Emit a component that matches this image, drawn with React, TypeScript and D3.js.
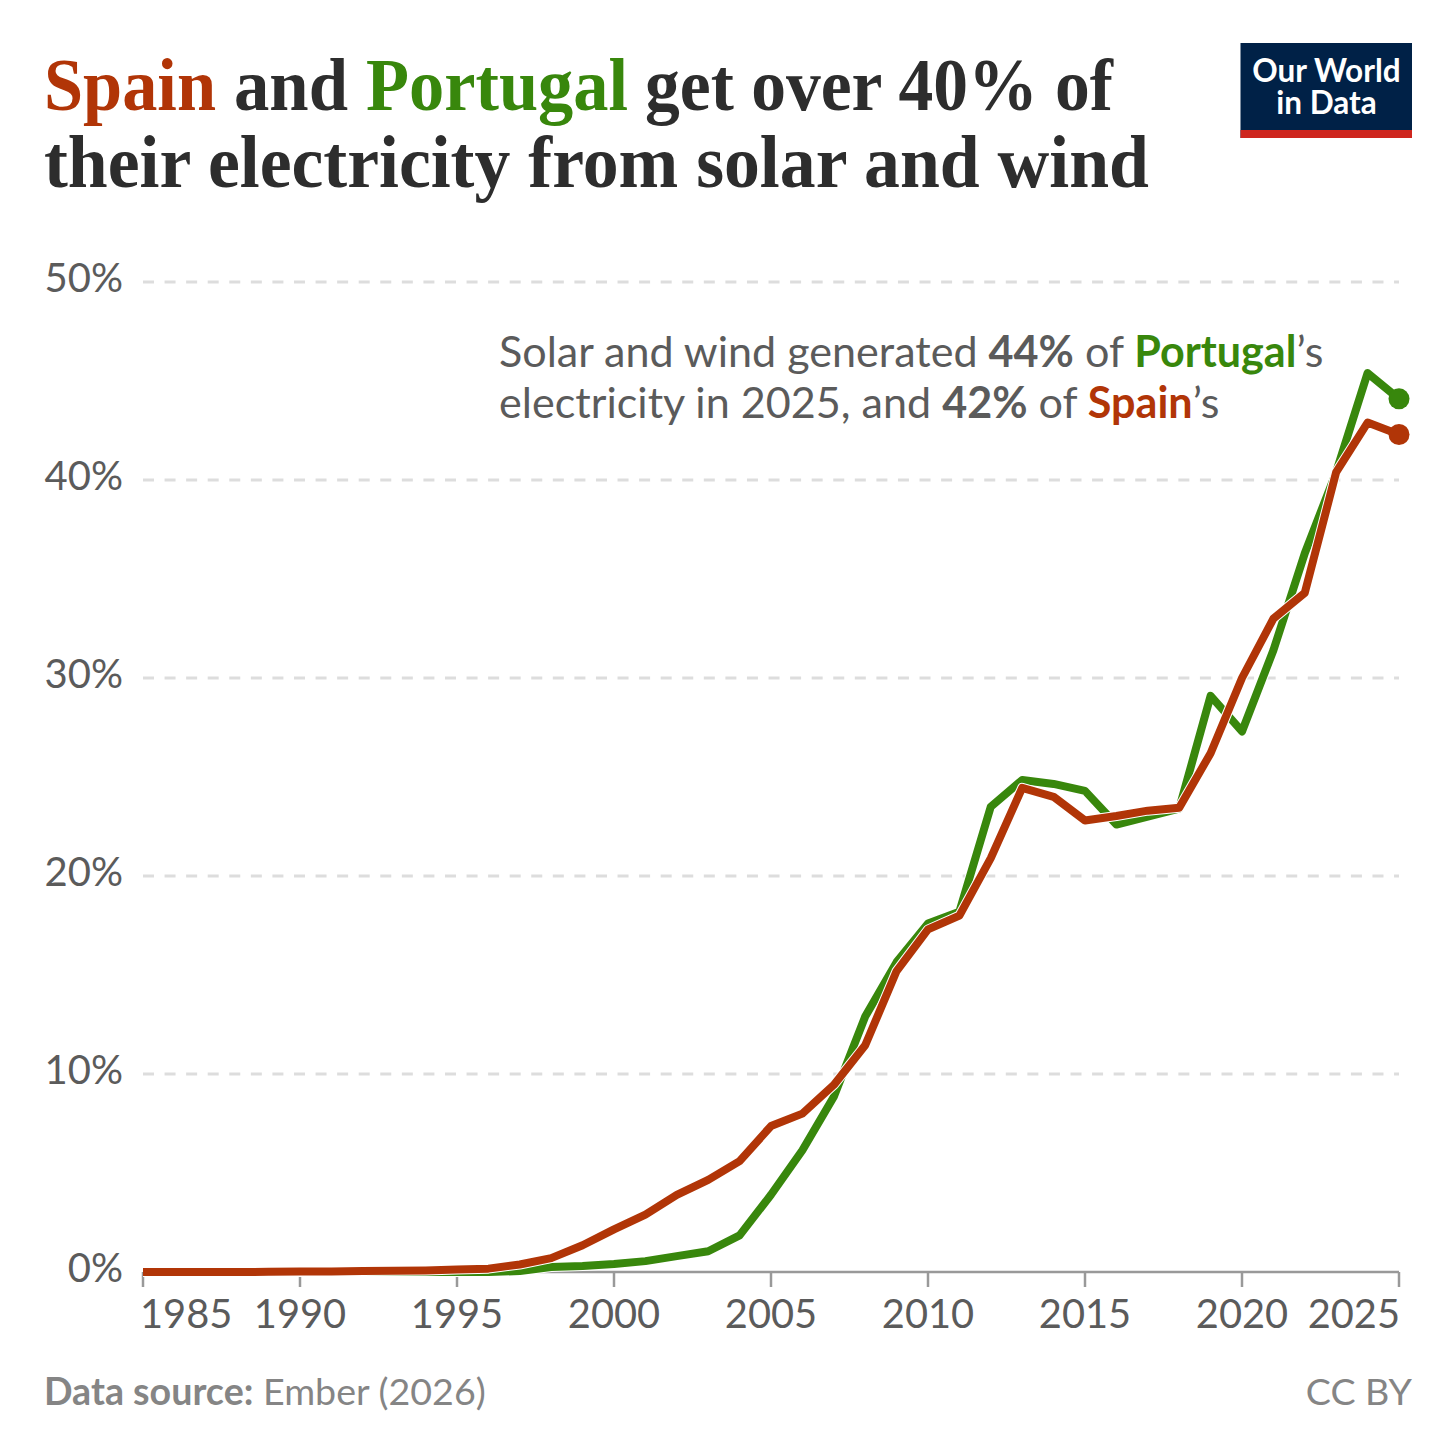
import React from "react";
import * as d3 from "d3";

const years = d3.range(1985, 2026);
const spain = [0,0,0,0,0.01,0.02,0.02,0.05,0.06,0.08,0.13,0.17,0.38,0.7,1.35,2.15,2.9,3.9,4.65,5.6,7.37,8.0,9.45,11.45,15.2,17.3,18.0,20.9,24.45,24.0,22.8,23.03,23.3,23.45,26.2,30.0,33.0,34.3,40.4,42.9,42.3];
const portugal = [0,0,0,0,0,0,0,0,0,0,0,0,0.05,0.25,0.3,0.4,0.55,0.8,1.05,1.85,3.9,6.15,8.85,12.9,15.65,17.6,18.2,23.5,24.85,24.65,24.3,22.6,23.0,23.4,29.1,27.3,31.4,36.3,40.4,45.4,44.1];
const yTicks = [0, 10, 20, 30, 40, 50];
const xTicks = [1985, 1990, 1995, 2000, 2005, 2010, 2015, 2020, 2025];

const SPAIN = "#b13507";
const PORTUGAL = "#38870c";
const GREY = "#5b5b5b";
const DARK = "#2d2d2d";

const x = d3.scaleLinear().domain([1985, 2025]).range([143, 1399]);
const y = d3.scaleLinear().domain([0, 50]).range([1272, 282]);
const line = d3.line<number>().x((_, i) => x(years[i])).y((d) => y(d));

const serif = "'Liberation Serif', serif";
const lato = "Lato, sans-serif";

function Seg({ x: px, y: py, w, fill, children }: any) {
  return (
    <text x={px} y={py} textLength={w} lengthAdjust="spacingAndGlyphs" fill={fill} fontFamily={serif} fontWeight={700} fontSize={74}>
      {children}
    </text>
  );
}

export default function App() {
  return (
    <svg width={1456} height={1456} viewBox="0 0 1456 1456" style={{ position: "absolute", left: 0, top: 0, background: "#fff" }}>
      <Seg x={44} y={110} w={172} fill={SPAIN}>Spain</Seg>
      <Seg x={234} y={110} w={114} fill={DARK}>and</Seg>
      <Seg x={366} y={110} w={262} fill={PORTUGAL}>Portugal</Seg>
      <Seg x={645} y={110} w={468} fill={DARK}>get over 40% of</Seg>
      <Seg x={44} y={187} w={1105} fill={DARK}>their electricity from solar and wind</Seg>

      <rect x={1240.5} y={43} width={171.5} height={95} fill="#002147" />
      <rect x={1240.5} y={130} width={171.5} height={8} fill="#ce261e" />
      <text textAnchor="middle" fill="#fff" fontFamily={lato} fontWeight={700} fontSize={31.5}>
        <tspan x={1326.5} y={82}>Our World</tspan>
        <tspan x={1326.5} y={114}>in Data</tspan>
      </text>

      {yTicks.map((t) => (
        <g key={t}>
          {t > 0 && <line x1={143} x2={1399} y1={y(t)} y2={y(t)} stroke="#dddddd" strokeWidth={3} strokeDasharray="11,10.57" />}
          <text x={123} y={y(t) + 10} textAnchor="end" fill={GREY} fontFamily={lato} fontSize={40}>{t}%</text>
        </g>
      ))}

      <line x1={143} x2={1399} y1={y(0)} y2={y(0)} stroke="#999" strokeWidth={2.5} />
      {xTicks.map((t) => (
        <g key={t}>
          <line x1={x(t)} x2={x(t)} y1={y(0)} y2={y(0) + 15} stroke="#999" strokeWidth={2.5} />
          <text
            x={t === 1985 ? x(t) - 3 : t === 2025 ? x(t) + 1 : x(t)}
            y={1328}
            textAnchor={t === 1985 ? "start" : t === 2025 ? "end" : "middle"}
            fill={GREY}
            fontFamily={lato}
            fontSize={39.8}
          >
            {t}
          </text>
        </g>
      ))}

      <path d={line(portugal)!} fill="none" stroke="#fff" strokeWidth={10} strokeLinejoin="round" />
      <path d={line(portugal)!} fill="none" stroke={PORTUGAL} strokeWidth={8} strokeLinejoin="round" />
      <circle cx={x(2025)} cy={y(portugal[40])} r={10.5} fill={PORTUGAL} />
      <path d={line(spain)!} fill="none" stroke="#fff" strokeWidth={10} strokeLinejoin="round" />
      <path d={line(spain)!} fill="none" stroke={SPAIN} strokeWidth={8} strokeLinejoin="round" />
      <circle cx={x(2025)} cy={y(spain[40])} r={10.5} fill={SPAIN} />

      <text x={499} y={366.5} fill={GREY} fontFamily={lato} fontSize={43.1}>
        Solar and wind generated <tspan fontWeight={700}>44%</tspan> of{" "}
        <tspan fontWeight={700} fill={PORTUGAL}>Portugal</tspan>’s
      </text>
      <text x={499} y={417.5} fill={GREY} fontFamily={lato} fontSize={43.1}>
        electricity in 2025, and <tspan fontWeight={700}>42%</tspan> of{" "}
        <tspan fontWeight={700} fill={SPAIN}>Spain</tspan>’s
      </text>

      <text x={44} y={1404.5} fill="#858585" fontFamily={lato} fontSize={37.6}>
        <tspan fontWeight={700}>Data source:</tspan> Ember (2026)
      </text>
      <text x={1412} y={1404.5} textAnchor="end" fill="#858585" fontFamily={lato} fontSize={37.6}>CC BY</text>
    </svg>
  );
}
